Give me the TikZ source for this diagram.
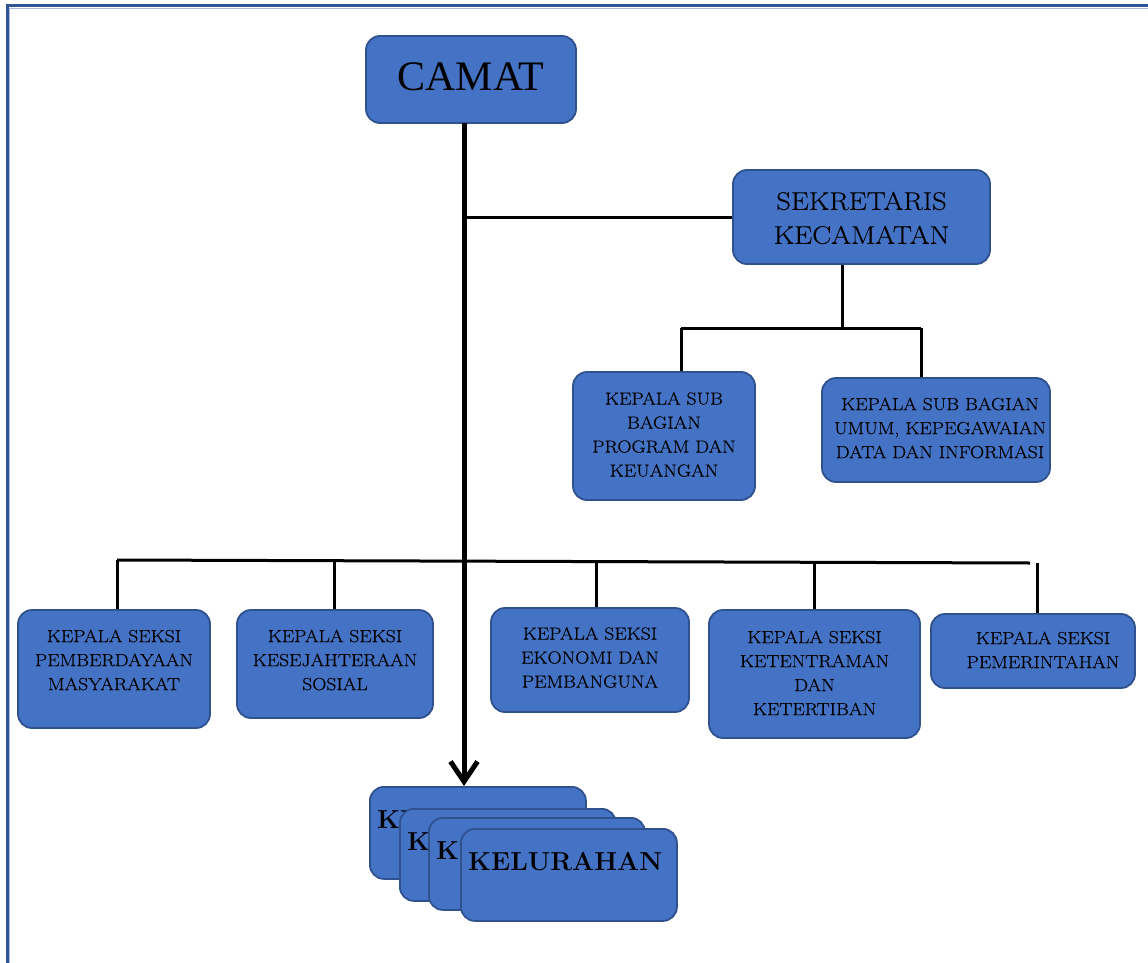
\documentclass[tikz,border=0pt]{standalone}
\usepackage{fontspec}
\newfontfamily\camatfont{Liberation Serif}
\newfontfamily\widefont[FakeStretch=1.12,FakeBold=0.3]{Latin Modern Roman}
\usetikzlibrary{arrows.meta}
\definecolor{boxfill}{HTML}{4472C4}
\definecolor{boxedge}{HTML}{2F528F}
\definecolor{framedark}{HTML}{2F5597}
\definecolor{framelight}{HTML}{A9BCE0}
\tikzset{
  orgbox/.style={draw=boxedge, fill=boxfill, line width=1.8pt, rounded corners=14pt, inner sep=0pt},
  smalltxt/.style={align=center, font=\widefont\fontsize{17.5}{24}\selectfont, inner sep=0pt},
  conn/.style={line width=3pt},
  mainconn/.style={line width=5pt},
}
\begin{document}
\begin{tikzpicture}[x=1pt,y=-1pt]
\useasboundingbox (0,0) rectangle (1148,963);
% frame
\draw[framedark, line width=3pt] (1148,6) -- (7,6) -- (7,963);
\draw[framelight, line width=1pt] (1148,8.5) -- (9.5,8.5) -- (9.5,963);

% CAMAT
\node[orgbox, minimum width=210pt, minimum height=87pt] (camat) at (471,79.5) {};
\node[inner sep=0pt, font=\camatfont\fontsize{42}{46}\selectfont] (camattxt) at (471,77) {CAMAT};

% Sekretaris
\node[orgbox, minimum width=257pt, minimum height=94pt] (sek) at (861.5,217) {};
\node[align=center, inner sep=0pt, font=\widefont\fontsize{25.5}{34}\selectfont] (sektxt) at (861.5,218) {SEKRETARIS\\KECAMATAN};

% sub bagian
\node[orgbox, minimum width=182pt, minimum height=128pt] (ksb1) at (664,436) {};
\node[smalltxt] (ksb1txt) at (664,434.5) {KEPALA SUB\\BAGIAN\\PROGRAM DAN\\KEUANGAN};
\node[orgbox, minimum width=228pt, minimum height=104pt] (ksb2) at (936,430) {};
\begin{scope}
\clip (822,378) rectangle (1046,482);
\node[smalltxt] (ksb2txt) at (940,428) {KEPALA SUB BAGIAN\\UMUM, KEPEGAWAIAN\\DATA DAN INFORMASI};
\end{scope}

% seksi
\node[orgbox, minimum width=192pt, minimum height=118pt] (s1) at (114,669) {};
\node[smalltxt] (s1txt) at (114,660) {KEPALA SEKSI\\PEMBERDAYAAN\\MASYARAKAT};
\node[orgbox, minimum width=196pt, minimum height=108pt] (s2) at (335,664) {};
\node[smalltxt] (s2txt) at (335,660) {KEPALA SEKSI\\KESEJAHTERAAN\\SOSIAL};
\node[orgbox, minimum width=198pt, minimum height=104pt] (s3) at (590,660) {};
\node[smalltxt] (s3txt) at (590,657.5) {KEPALA SEKSI\\EKONOMI DAN\\PEMBANGUNA};
\node[orgbox, minimum width=211pt, minimum height=128pt] (s4) at (814.5,674) {};
\node[smalltxt] (s4txt) at (814.5,673) {KEPALA SEKSI\\KETENTRAMAN\\DAN\\KETERTIBAN};
\node[orgbox, minimum width=204pt, minimum height=74pt] (s5) at (1033,651) {};
\node[smalltxt] (s5txt) at (1043,650) {KEPALA SEKSI\\PEMERINTAHAN};

% kelurahan stack
\foreach \i/\x/\y in {1/369/786, 2/399/808, 3/428/817, 4/460/828} {
  \node[orgbox, minimum width=216pt, minimum height=92pt, anchor=north west] (kel\i) at (\x,\y) {};
  \node[inner sep=0pt, anchor=west, font=\bfseries\fontsize{26}{30}\selectfont] (kel\i txt) at (\x+8,\y+34) {KELURAHAN};
}

% connectors
\coordinate (mtop) at (464,123);
\coordinate (mbot) at (464,786);
\coordinate (sekj) at (464,217);
\draw[mainconn, -{Straight Barb[length=20pt,width=27pt,line width=5pt]}] (mtop) -- (mbot);
\draw[conn] (sekj) -- (sek.west);

\coordinate (sekb) at (842,328);
\coordinate (bl) at (681,328);
\coordinate (br) at (921,328);
\draw[conn] (sek.south -| sekb) -- (sekb);
\draw[conn] (bl) -- (br);
\draw[conn] (bl) -- (ksb1.north -| bl);
\draw[conn] (br) -- (ksb2.north -| br);

\coordinate (busl) at (117,560);
\coordinate (busr) at (1030,563);
\draw[conn] (busl) -- (busr);
\coordinate (b2) at (334,561);
\coordinate (b3) at (596,561);
\coordinate (b4) at (814,562);
\coordinate (b5) at (1037,563);
\draw[conn] (busl) -- (s1.north -| busl);
\draw[conn] (b2) -- (s2.north -| b2);
\draw[conn] (b3) -- (s3.north -| b3);
\draw[conn] (b4) -- (s4.north -| b4);
\draw[conn] (b5) -- (s5.north -| b5);
\end{tikzpicture}
\end{document}
